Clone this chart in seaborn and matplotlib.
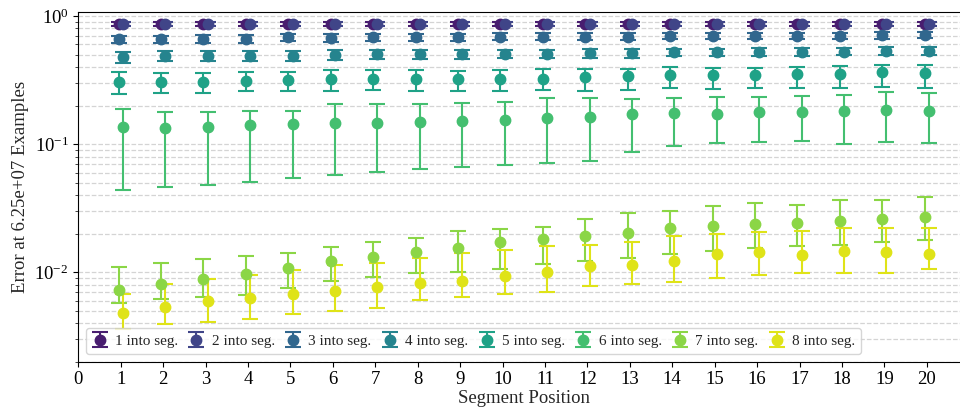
import numpy as np
import matplotlib
matplotlib.use('Agg')
import matplotlib.pyplot as plt
import seaborn as sns

positions = list(range(1, 21))
labels = ['1 into seg.', '2 into seg.', '3 into seg.', '4 into seg.',
          '5 into seg.', '6 into seg.', '7 into seg.', '8 into seg.']

# means
mean_1 = [0.866, 0.866, 0.866, 0.866, 0.866, 0.866, 0.866, 0.866, 0.866, 0.866,
          0.866, 0.866, 0.866, 0.866, 0.866, 0.866, 0.866, 0.866, 0.866, 0.866]
mean_2 = [0.862, 0.862, 0.862, 0.862, 0.862, 0.862, 0.862, 0.862, 0.862, 0.862,
          0.862, 0.862, 0.862, 0.862, 0.862, 0.862, 0.862, 0.862, 0.862, 0.862]
mean_3 = [0.657, 0.657, 0.665, 0.665, 0.681, 0.677, 0.684, 0.681, 0.681, 0.690,
          0.690, 0.690, 0.690, 0.698, 0.698, 0.702, 0.702, 0.702, 0.706, 0.706]
mean_4 = [0.475, 0.487, 0.487, 0.490, 0.490, 0.496, 0.502, 0.502, 0.502, 0.505,
          0.508, 0.511, 0.511, 0.520, 0.520, 0.524, 0.527, 0.527, 0.533, 0.530]
mean_5 = [0.307, 0.307, 0.307, 0.311, 0.316, 0.320, 0.322, 0.322, 0.322, 0.322,
          0.322, 0.332, 0.340, 0.344, 0.344, 0.346, 0.352, 0.352, 0.363, 0.357]
mean_6 = [0.136, 0.133, 0.136, 0.141, 0.143, 0.145, 0.145, 0.148, 0.151, 0.154,
          0.160, 0.164, 0.172, 0.174, 0.172, 0.177, 0.178, 0.180, 0.185, 0.182]
mean_7 = [0.00732, 0.00816, 0.00887, 0.00970, 0.0108, 0.0123, 0.0132, 0.0143, 0.0155, 0.0172,
          0.0180, 0.0192, 0.0201, 0.0223, 0.0230, 0.0236, 0.0244, 0.0252, 0.0259, 0.0269]
mean_8 = [0.00478, 0.00533, 0.00601, 0.00630, 0.00670, 0.00714, 0.00768, 0.00825, 0.00861, 0.00931,
          0.0100, 0.0111, 0.0113, 0.0123, 0.0139, 0.0143, 0.0136, 0.0146, 0.0145, 0.0139]

# lower / upper ends of the error bars
low_1 = [0.836] * 20
high_1 = [0.896] * 20
low_2 = [0.832] * 20
high_2 = [0.892] * 20
low_3 = [0.612, 0.612, 0.620, 0.620, 0.636, 0.632, 0.640, 0.638, 0.638, 0.647,
         0.648, 0.648, 0.649, 0.657, 0.658, 0.662, 0.663, 0.663, 0.667, 0.668]
high_3 = [0.702, 0.702, 0.710, 0.710, 0.726, 0.722, 0.728, 0.724, 0.724, 0.733,
          0.732, 0.732, 0.731, 0.739, 0.738, 0.742, 0.741, 0.741, 0.745, 0.744]
low_4 = [0.430, 0.443, 0.443, 0.447, 0.448, 0.454, 0.461, 0.461, 0.462, 0.466,
         0.469, 0.473, 0.474, 0.483, 0.484, 0.488, 0.491, 0.492, 0.496, 0.492]
high_4 = [0.520, 0.531, 0.531, 0.533, 0.532, 0.538, 0.543, 0.543, 0.542, 0.544,
          0.547, 0.549, 0.548, 0.557, 0.556, 0.560, 0.563, 0.562, 0.570, 0.568]
low_5 = [0.247, 0.249, 0.252, 0.259, 0.259, 0.261, 0.263, 0.259, 0.262, 0.262,
         0.264, 0.261, 0.266, 0.272, 0.271, 0.272, 0.275, 0.275, 0.281, 0.274]
high_5 = [0.363, 0.361, 0.357, 0.367, 0.367, 0.379, 0.379, 0.379, 0.374, 0.381,
          0.388, 0.388, 0.388, 0.400, 0.393, 0.393, 0.402, 0.407, 0.412, 0.412]
low_6 = [0.0437, 0.0464, 0.0478, 0.0502, 0.0540, 0.0573, 0.0601, 0.0638, 0.0661, 0.0686,
         0.0707, 0.0741, 0.0866, 0.0973, 0.102, 0.103, 0.105, 0.1005, 0.104, 0.102]
high_6 = [0.188, 0.178, 0.179, 0.181, 0.181, 0.204, 0.204, 0.206, 0.209, 0.213,
          0.228, 0.230, 0.223, 0.230, 0.233, 0.233, 0.236, 0.241, 0.253, 0.252]
low_7 = [0.00576, 0.00618, 0.00638, 0.00658, 0.00746, 0.00851, 0.00923, 0.00988, 0.0100, 0.0105,
         0.0115, 0.0123, 0.0129, 0.0138, 0.0147, 0.0155, 0.0160, 0.0162, 0.0173, 0.0177]
high_7 = [0.0110, 0.0117, 0.0126, 0.0134, 0.0142, 0.0157, 0.0171, 0.0186, 0.0210, 0.0219,
          0.0225, 0.0258, 0.0291, 0.0300, 0.0330, 0.0348, 0.0336, 0.0363, 0.0367, 0.0387]
low_8 = [0.00357, 0.00392, 0.00412, 0.00435, 0.00475, 0.00496, 0.00530, 0.00604, 0.00638, 0.00677,
         0.00702, 0.00778, 0.00802, 0.00832, 0.00902, 0.00959, 0.00977, 0.00988, 0.00982, 0.0106]
high_8 = [0.00677, 0.00806, 0.00881, 0.00959, 0.0104, 0.0113, 0.0119, 0.0128, 0.0140, 0.0150,
          0.0160, 0.0164, 0.0173, 0.0190, 0.0199, 0.0207, 0.0210, 0.0221, 0.0223, 0.0222]

means = [mean_1, mean_2, mean_3, mean_4, mean_5, mean_6, mean_7, mean_8]
lows = [low_1, low_2, low_3, low_4, low_5, low_6, low_7, low_8]
highs = [high_1, high_2, high_3, high_4, high_5, high_6, high_7, high_8]

sns.set_style('ticks')
plt.rcParams['font.family'] = ['Liberation Serif', 'DejaVu Serif']
plt.rcParams['mathtext.fontset'] = 'stix'

fig = plt.figure(figsize=(9.6, 4.12), dpi=100)
ax = fig.add_axes([0.0816, 0.122, 0.928, 0.8496])

cmap = sns.color_palette('viridis', as_cmap=True)
colors = cmap(np.linspace(0.08, 0.95, 8))
offsets = [-0.05, 0.05, -0.05, 0.05, -0.05, 0.05, -0.05, 0.05]

for i in range(8):
    m = np.array(means[i])
    lo = np.array(lows[i])
    hi = np.array(highs[i])
    x = np.array(positions) + offsets[i]
    ax.errorbar(x, m, yerr=[m - lo, hi - m], fmt='o', color=colors[i],
                ms=7.5, capsize=5.5, elinewidth=1.5, capthick=1.5, label=labels[i])

ax.set_yscale('log')
ax.set_xlim(0, 21)
ax.set_ylim(0.002, 1.08)
ax.set_xticks(range(0, 21))
ax.grid(axis='y', which='both', linestyle='--', color='#d4d4d4', linewidth=0.9)
ax.set_axisbelow(True)
for s in ax.spines.values():
    s.set_color('black')
ax.tick_params(labelsize=13.5, colors='black')
ax.set_xlabel('Segment Position', fontsize=13.5, labelpad=1)
ax.set_ylabel('Error at 6.25e+07 Examples', fontsize=13.5)
ax.legend(loc='lower left', ncol=8, fontsize=11, handlelength=1,
          handletextpad=0.5, columnspacing=0.7, frameon=True, fancybox=True,
          framealpha=0.8, edgecolor='#cccccc')

fig.savefig('out.png', dpi=100)
